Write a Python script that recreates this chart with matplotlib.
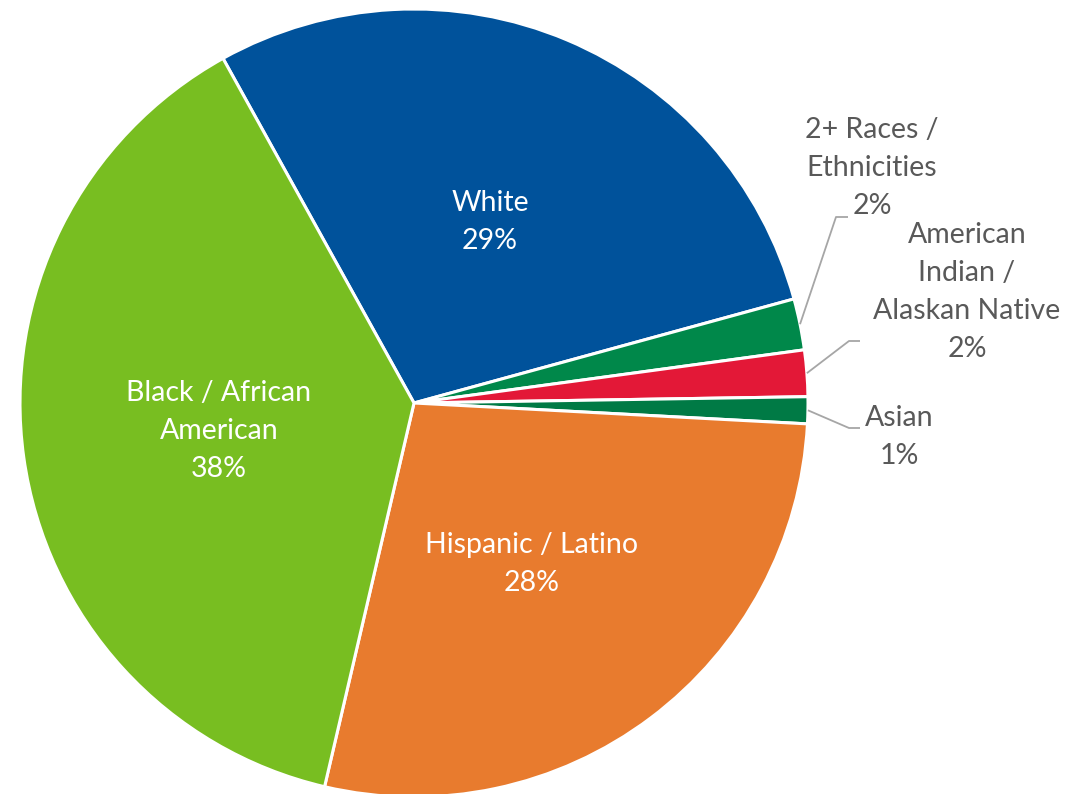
import matplotlib
matplotlib.use("Agg")
import matplotlib.pyplot as plt
import numpy as np

categories = ["White", "2+ Races /\nEthnicities", "American\nIndian /\nAlaskan Native", "Asian",
              "Hispanic / Latino", "Black / African\nAmerican"]
values = [28.8, 2.1, 1.9, 1.1, 27.8, 38.3]
pct_labels = ["29%", "2%", "2%", "1%", "28%", "38%"]
colors = ["#00529B", "#00884A", "#E31837", "#007A45", "#E87B2E", "#78BE21"]

W, H = 1086, 794
fig = plt.figure(figsize=(W / 100, H / 100), dpi=100)
ax = fig.add_axes([0, 0, 1, 1])

cx, cy, R = 414, H - 403, 394
start = 119
wedges, _ = ax.pie(values, colors=colors, startangle=start, counterclock=False,
                   center=(cx, cy), radius=R, frame=True,
                   wedgeprops=dict(edgecolor="white", linewidth=2.2))
ax.set_xlim(0, W)
ax.set_ylim(0, H)
ax.set_aspect("equal")
ax.axis("off")

font = "Lato"
gray = "#595959"
fs = 20.5
ls = 1.58

# inside labels
inside = {0: (490, 222), 4: (532, 564), 5: (219, 431)}
for i, (x, y) in inside.items():
    ax.text(x, H - y, categories[i] + "\n" + pct_labels[i], ha="center", va="center",
            color="white", fontsize=fs, family=font, linespacing=ls)

# outside labels with leaders
cum = np.cumsum([0] + values)
outside = {
    1: dict(text=(872, 168), elbow=(836, 217), end=(848, 217)),
    2: dict(text=(967, 292), elbow=(849, 341), end=(860, 341)),
    3: dict(text=(899, 437), elbow=(849, 428), end=(860, 428)),
}
for i, o in outside.items():
    mid = start - 360 * (cum[i] + values[i] / 2) / 100
    a = np.deg2rad(mid)
    px, py = cx + R * np.cos(a), cy + R * np.sin(a)
    ax.plot([px, o["elbow"][0], o["end"][0]], [py, H - o["elbow"][1], H - o["end"][1]],
            color="#A6A6A6", lw=1.3, solid_capstyle="butt")
    ax.text(o["text"][0], H - o["text"][1], categories[i] + "\n" + pct_labels[i],
            ha="center", va="center", color=gray, fontsize=fs, family=font, linespacing=ls)

fig.savefig("out.png", dpi=100)
